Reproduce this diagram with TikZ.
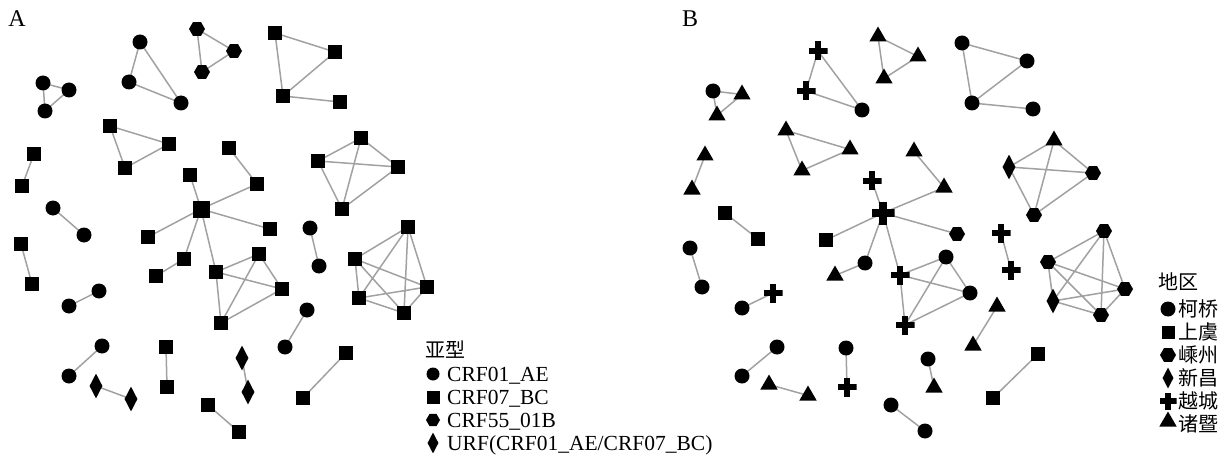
\documentclass[tikz,border=0pt]{standalone}
\usepackage{fontspec}
\setmainfont{Liberation Serif}
\newfontfamily\cjk{Noto Sans CJK SC}
\usepackage{tikz}
\usetikzlibrary{shapes.geometric,backgrounds}
\tikzset{
  link/.style={draw=black!37, line width=1.5pt},
  dotnode/.style={circle, fill=black, minimum size=#1, inner sep=0pt},
  dotnode/.default=15pt,
  boxnode/.style={rectangle, fill=black, minimum size=#1, inner sep=0pt},
  boxnode/.default=13.5pt,
  hexnode/.style={regular polygon, regular polygon sides=6, fill=black, minimum size=#1, inner sep=0pt},
  hexnode/.default=16pt,
  gemnode/.style={diamond, fill=black, minimum width=13pt, minimum height=25pt, inner sep=0pt},
  trinode/.style={regular polygon, regular polygon sides=3, fill=black, minimum size=20pt, inner sep=0pt, yshift=2.5pt},
  plusnode/.style={rectangle, minimum size=#1, inner sep=0pt, path picture={
    \fill[black] ([xshift=-0.18*#1]path picture bounding box.south) rectangle ([xshift=0.18*#1]path picture bounding box.north);
    \fill[black] ([yshift=-0.18*#1]path picture bounding box.west) rectangle ([yshift=0.18*#1]path picture bounding box.east);}},
  plusnode/.default=19pt,
  legtext/.style={anchor=west, inner sep=0pt, font=\fontsize{21.5}{24}\selectfont, text height=14.5pt, text depth=0pt},
  cjktext/.style={anchor=west, inner sep=0pt, font=\cjk\fontsize{20}{24}\selectfont, text height=17pt, text depth=3pt},
  panel/.style={inner sep=0pt, font=\fontsize{24}{28}\selectfont, text height=16pt, text depth=0pt}
}

\begin{document}
\begin{tikzpicture}[x=1pt, y=-1pt]
        \useasboundingbox (0,0) rectangle (1225,457);

        % Panel A: coloured by subtype
        \node[panel] (labA) at (17,19) {A};
        \node[dotnode] (a1) at (43,83) {};
        \node[dotnode] (a2) at (69,90) {};
        \node[dotnode] (a3) at (45,111) {};
        \node[dotnode] (a4) at (140,42) {};
        \node[dotnode] (a5) at (129,82) {};
        \node[dotnode] (a6) at (181,103) {};
        \node[hexnode] (a7) at (197,29) {};
        \node[hexnode] (a8) at (234,51) {};
        \node[hexnode] (a9) at (202,72) {};
        \node[boxnode] (a10) at (275,33) {};
        \node[boxnode] (a11) at (335,52) {};
        \node[boxnode] (a12) at (283,96) {};
        \node[boxnode] (a13) at (340,102) {};
        \node[boxnode] (a14) at (110,126) {};
        \node[boxnode] (a15) at (169,144) {};
        \node[boxnode] (a16) at (125,168) {};
        \node[boxnode] (a17) at (34,154) {};
        \node[boxnode] (a18) at (22,186) {};
        \node[boxnode=17pt] (hubA) at (201,209) {};
        \node[boxnode] (a19) at (190,175) {};
        \node[boxnode] (a20) at (229,148) {};
        \node[boxnode] (a21) at (257,184) {};
        \node[boxnode] (a22) at (270,229) {};
        \node[boxnode] (a23) at (148,237) {};
        \node[boxnode] (a24) at (184,259) {};
        \node[boxnode] (a25) at (156,276) {};
        \node[boxnode] (a26) at (216,272) {};
        \node[boxnode] (a27) at (259,254) {};
        \node[boxnode] (a28) at (282,289) {};
        \node[boxnode] (a29) at (221,323) {};
        \node[boxnode] (a30) at (361,138) {};
        \node[boxnode] (a31) at (318,161) {};
        \node[boxnode] (a32) at (398,167) {};
        \node[boxnode] (a33) at (342,209) {};
        \node[dotnode] (a34) at (53,208) {};
        \node[dotnode] (a35) at (84,235) {};
        \node[dotnode] (a36) at (310,228) {};
        \node[dotnode] (a37) at (319,266) {};
        \node[boxnode] (a38) at (408,227) {};
        \node[boxnode] (a39) at (355,259) {};
        \node[boxnode] (a40) at (427,287) {};
        \node[boxnode] (a41) at (359,298) {};
        \node[boxnode] (a42) at (404,313) {};
        \node[boxnode] (a43) at (21,244) {};
        \node[boxnode] (a44) at (32,284) {};
        \node[dotnode] (a45) at (99,291) {};
        \node[dotnode] (a46) at (69,306) {};
        \node[dotnode] (a47) at (307,310) {};
        \node[dotnode] (a48) at (285,347) {};
        \node[dotnode] (a49) at (102,346) {};
        \node[dotnode] (a50) at (69,376) {};
        \node[gemnode] (a51) at (96,386) {};
        \node[gemnode] (a52) at (131,399) {};
        \node[boxnode] (a53) at (166,347) {};
        \node[boxnode] (a54) at (167,387) {};
        \node[gemnode] (a55) at (242,358) {};
        \node[gemnode] (a56) at (248,392) {};
        \node[boxnode] (a57) at (208,405) {};
        \node[boxnode] (a58) at (239,432) {};
        \node[boxnode] (a59) at (346,353) {};
        \node[boxnode] (a60) at (303,398) {};

        % Panel B: coloured by region
        \node[panel] (labB) at (690,19) {B};
        \node[dotnode] (b1) at (713,91) {};
        \node[trinode] (b2) at (742,97) {};
        \node[trinode] (b3) at (717,118) {};
        \node[plusnode] (b4) at (818,51) {};
        \node[plusnode] (b5) at (806,91) {};
        \node[dotnode] (b6) at (862,110) {};
        \node[trinode] (b7) at (878,39) {};
        \node[trinode] (b8) at (918,59) {};
        \node[trinode] (b9) at (884,81) {};
        \node[dotnode] (b10) at (962,43) {};
        \node[dotnode] (b11) at (1027,61) {};
        \node[dotnode] (b12) at (972,103) {};
        \node[dotnode] (b13) at (1033,109) {};
        \node[trinode] (b14) at (786,133) {};
        \node[trinode] (b15) at (850,152) {};
        \node[trinode] (b16) at (802,173) {};
        \node[trinode] (b17) at (705,158) {};
        \node[trinode] (b18) at (692,192) {};
        \node[plusnode=23pt] (hubB) at (883,213) {};
        \node[plusnode] (b19) at (872,181) {};
        \node[trinode] (b20) at (914,154) {};
        \node[trinode] (b21) at (944,190) {};
        \node[hexnode] (b22) at (957,234) {};
        \node[boxnode] (b23) at (826,240) {};
        \node[dotnode] (b24) at (865,263) {};
        \node[trinode] (b25) at (835,278) {};
        \node[plusnode] (b26) at (900,275) {};
        \node[dotnode] (b27) at (946,257) {};
        \node[dotnode] (b28) at (970,293) {};
        \node[plusnode] (b29) at (905,325) {};
        \node[trinode] (b30) at (1054,143) {};
        \node[gemnode] (b31) at (1009,167) {};
        \node[hexnode] (b32) at (1093,173) {};
        \node[hexnode] (b33) at (1034,215) {};
        \node[boxnode] (b34) at (725,213) {};
        \node[boxnode] (b35) at (758,239) {};
        \node[plusnode] (b36) at (1001,233) {};
        \node[plusnode] (b37) at (1011,270) {};
        \node[hexnode] (b38) at (1104,231) {};
        \node[hexnode] (b39) at (1048,262) {};
        \node[hexnode] (b40) at (1125,289) {};
        \node[gemnode] (b41) at (1053,301) {};
        \node[hexnode] (b42) at (1101,315) {};
        \node[dotnode] (b43) at (690,248) {};
        \node[dotnode] (b44) at (702,287) {};
        \node[plusnode] (b45) at (773,293) {};
        \node[dotnode] (b46) at (742,308) {};
        \node[trinode] (b47) at (997,309) {};
        \node[trinode] (b48) at (973,348) {};
        \node[dotnode] (b49) at (777,347) {};
        \node[dotnode] (b50) at (742,376) {};
        \node[trinode] (b51) at (769,387) {};
        \node[trinode] (b52) at (808,398) {};
        \node[dotnode] (b53) at (846,348) {};
        \node[plusnode] (b54) at (847,387) {};
        \node[dotnode] (b55) at (928,359) {};
        \node[trinode] (b56) at (934,390) {};
        \node[dotnode] (b57) at (891,405) {};
        \node[dotnode] (b58) at (925,431) {};
        \node[boxnode] (b59) at (1038,354) {};
        \node[boxnode] (b60) at (993,398) {};

        % Links behind the nodes
        \begin{scope}[on background layer]
        \draw[link] (a1.center) -- (a2.center) -- (a3.center) -- cycle;
        \draw[link] (a4.center) -- (a5.center) -- (a6.center) -- cycle;
        \draw[link] (a7.center) -- (a8.center) -- (a9.center) -- cycle;
        \draw[link] (a10.center) -- (a11.center) -- (a12.center) -- cycle (a12.center) -- (a13.center);
        \draw[link] (a14.center) -- (a15.center) -- (a16.center) -- cycle;
        \draw[link] (a17.center) -- (a18.center);
        \draw[link] (hubA.center) -- (a19.center) (hubA.center) -- (a21.center) -- (a20.center)
          (hubA.center) -- (a22.center) (hubA.center) -- (a23.center)
          (hubA.center) -- (a24.center) -- (a25.center) (hubA.center) -- (a26.center);
        \draw[link] (a26.center) -- (a27.center) -- (a28.center) -- (a29.center) -- cycle
          (a26.center) -- (a28.center) (a27.center) -- (a29.center);
        \draw[link] (a30.center) -- (a32.center) -- (a33.center) -- (a31.center) -- cycle
          (a30.center) -- (a33.center) (a31.center) -- (a32.center);
        \draw[link] (a34.center) -- (a35.center);
        \draw[link] (a36.center) -- (a37.center);
        \draw[link] (a38.center) -- (a40.center) -- (a42.center) -- (a41.center) -- (a39.center) -- cycle
          (a38.center) -- (a42.center) -- (a39.center) -- (a40.center) -- (a41.center) -- (a38.center);
        \draw[link] (a43.center) -- (a44.center);
        \draw[link] (a45.center) -- (a46.center);
        \draw[link] (a47.center) -- (a48.center);
        \draw[link] (a49.center) -- (a50.center);
        \draw[link] (a51.center) -- (a52.center);
        \draw[link] (a53.center) -- (a54.center);
        \draw[link] (a55.center) -- (a56.center);
        \draw[link] (a57.center) -- (a58.center);
        \draw[link] (a59.center) -- (a60.center);

        \draw[link] (b1.center) -- (b2.center) -- (b3.center) -- cycle;
        \draw[link] (b4.center) -- (b5.center) -- (b6.center) -- cycle;
        \draw[link] (b7.center) -- (b8.center) -- (b9.center) -- cycle;
        \draw[link] (b10.center) -- (b11.center) -- (b12.center) -- cycle (b12.center) -- (b13.center);
        \draw[link] (b14.center) -- (b15.center) -- (b16.center) -- cycle;
        \draw[link] (b17.center) -- (b18.center);
        \draw[link] (hubB.center) -- (b19.center) (hubB.center) -- (b21.center) -- (b20.center)
          (hubB.center) -- (b22.center) (hubB.center) -- (b23.center)
          (hubB.center) -- (b24.center) -- (b25.center) (hubB.center) -- (b26.center);
        \draw[link] (b26.center) -- (b27.center) -- (b28.center) -- (b29.center) -- cycle
          (b26.center) -- (b28.center) (b27.center) -- (b29.center);
        \draw[link] (b30.center) -- (b32.center) -- (b33.center) -- (b31.center) -- cycle
          (b30.center) -- (b33.center) (b31.center) -- (b32.center);
        \draw[link] (b34.center) -- (b35.center);
        \draw[link] (b36.center) -- (b37.center);
        \draw[link] (b38.center) -- (b40.center) -- (b42.center) -- (b41.center) -- (b39.center) -- cycle
          (b38.center) -- (b42.center) -- (b39.center) -- (b40.center) -- (b41.center) -- (b38.center);
        \draw[link] (b43.center) -- (b44.center);
        \draw[link] (b45.center) -- (b46.center);
        \draw[link] (b47.center) -- (b48.center);
        \draw[link] (b49.center) -- (b50.center);
        \draw[link] (b51.center) -- (b52.center);
        \draw[link] (b53.center) -- (b54.center);
        \draw[link] (b55.center) -- (b56.center);
        \draw[link] (b57.center) -- (b58.center);
        \draw[link] (b59.center) -- (b60.center);
        \end{scope}

        % Legend A
        \node[cjktext] (keyA) at (425,350) {亚型};
        \node[dotnode=13pt] (kA1) at (433,374) {};
        \node[boxnode=13pt] (kA2) at (433,397) {};
        \node[hexnode=14pt] (kA3) at (433,420) {};
        \node[gemnode, minimum width=11pt, minimum height=21pt] (kA4) at (433,443) {};
        \node[legtext] (tA1) at (447,374) {CRF01\_AE};
        \node[legtext] (tA2) at (447,397) {CRF07\_BC};
        \node[legtext] (tA3) at (447,420) {CRF55\_01B};
        \node[legtext] (tA4) at (447,443) {URF(CRF01\_AE/CRF07\_BC)};

        % Legend B
        \node[cjktext] (keyB) at (1158,282) {地区};
        \node[dotnode] (kB1) at (1168,309) {};
        \node[boxnode=13pt] (kB2) at (1168,332) {};
        \node[hexnode] (kB3) at (1168,355) {};
        \node[gemnode, minimum width=11pt, minimum height=21pt] (kB4) at (1168,378) {};
        \node[plusnode=17pt] (kB5) at (1168,401) {};
        \node[trinode] (kB6) at (1168,424) {};
        \node[cjktext] (tB1) at (1178,309) {柯桥};
        \node[cjktext] (tB2) at (1178,332) {上虞};
        \node[cjktext] (tB3) at (1178,355) {嵊州};
        \node[cjktext] (tB4) at (1178,378) {新昌};
        \node[cjktext] (tB5) at (1178,401) {越城};
        \node[cjktext] (tB6) at (1178,424) {诸暨};
    \end{tikzpicture}
\end{document}
